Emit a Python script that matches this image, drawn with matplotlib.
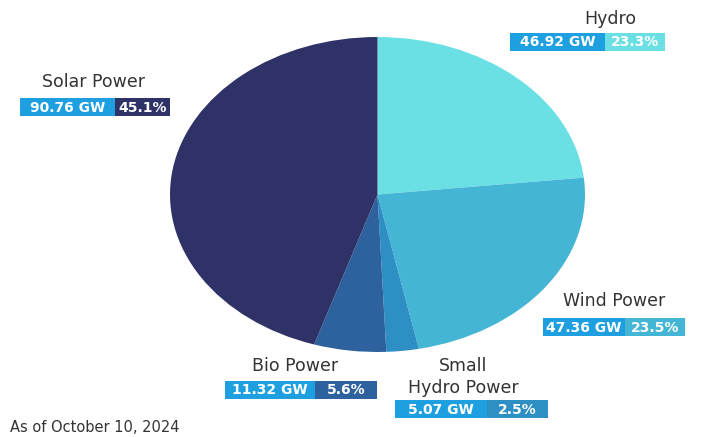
import matplotlib.pyplot as plt
from matplotlib.patches import Rectangle

# data (clockwise from 12 o'clock)
sources = ["Hydro", "Wind Power", "Small\nHydro Power", "Bio Power", "Solar Power"]
capacity_gw = [46.92, 47.36, 5.07, 11.32, 90.76]
share_pct = [23.3, 23.5, 2.5, 5.6, 45.1]
colors = ["#6be0e4", "#44b5d5", "#2d8fc3", "#2e629e", "#2e3266"]
gw_blue = "#1ea0e0"
note = "As of October 10, 2024"

W, H = 708, 437
fig = plt.figure(figsize=(W / 100, H / 100), dpi=100)

# pie axes, stretched into the same ellipse as the picture
cx, cy, rx, ry = 377.5, 194.5, 207.5, 157.5
ax = fig.add_axes([(cx - rx) / W, 1 - (cy + ry) / H, 2 * rx / W, 2 * ry / H])
ax.pie(capacity_gw, colors=colors, startangle=90, counterclock=False,
       wedgeprops=dict(linewidth=0))
ax.set_aspect("auto")
ax.set_xlim(-1, 1)
ax.set_ylim(-1, 1)

# overlay axes in pixel coordinates for labels
ov = fig.add_axes([0, 0, 1, 1], facecolor="none")
ov.set_xlim(0, W)
ov.set_ylim(H, 0)
ov.axis("off")

# label layout: title centre x, title y, box left, gw box width, pct box width, box top
layout = [
    (610, 19, 510, 95, 60, 33),
    (614, 301, 543, 82, 60, 318),
    (463, 377, 395, 92, 61, 400),
    (295, 366, 225, 90, 62, 381),
    (93, 82, 20, 95, 55, 98),
]
box_h = 18

for name, gw, pct, col, (tx, ty, bx, gw_w, pct_w, by) in zip(
        sources, capacity_gw, share_pct, colors, layout):
    ov.text(tx, ty, name, ha="center", va="center", fontsize=12.5,
            color="#333333", linespacing=1.35)
    ov.add_patch(Rectangle((bx, by), gw_w, box_h, color=gw_blue, lw=0))
    ov.add_patch(Rectangle((bx + gw_w, by), pct_w, box_h, color=col, lw=0))
    ov.text(bx + gw_w / 2, by + box_h / 2 + 0.5, f"{gw:.2f} GW", ha="center",
            va="center", fontsize=10, color="white", fontweight="bold")
    ov.text(bx + gw_w + pct_w / 2, by + box_h / 2 + 0.5, f"{pct:.1f}%",
            ha="center", va="center", fontsize=10, color="white", fontweight="bold")

ov.text(10, 428, note, ha="left", va="center", fontsize=10.5, color="#333333")

fig.savefig("out.png", dpi=100)
